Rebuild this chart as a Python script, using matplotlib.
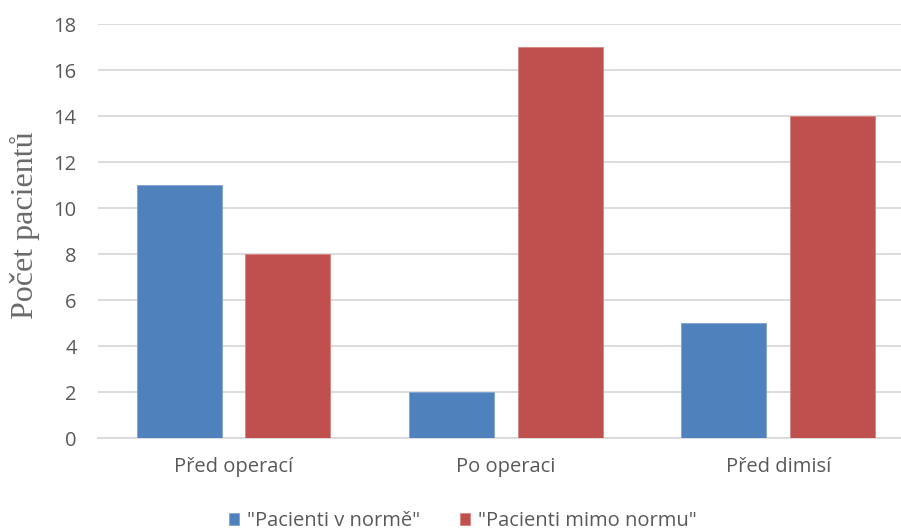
import matplotlib
matplotlib.use("Agg")
import matplotlib.pyplot as plt
import numpy as np

categories = ["Před operací", "Po operaci", "Před dimisí"]
series_names = ['"Pacienti v normě"', '"Pacienti mimo normu"']
v_norme = [11, 2, 5]
mimo_normu = [8, 17, 14]
yticks = [0, 2, 4, 6, 8, 10, 12, 14, 16, 18]
colors = ["#4F81BD", "#C0504D"]

fig = plt.figure(figsize=(9.01, 5.31), dpi=100)
W, H = 901, 531
left_px, right_px, top_px, bot_px = 97.5, 914.25, 24, 438
ax = fig.add_axes([left_px / W, 1 - bot_px / H, (right_px - left_px) / W, (bot_px - top_px) / H])

x = np.arange(len(categories))
bw = 0.312
ax.bar(x - 0.199, v_norme, bw, color=colors[0], label=series_names[0], zorder=3, edgecolor="#7FA3D0", linewidth=0.6)
ax.bar(x + 0.199, mimo_normu, bw, color=colors[1], label=series_names[1], zorder=3, edgecolor="#D88583", linewidth=0.6)

ax.set_xlim(-0.5, 2.5)
ax.set_ylim(0, 18)
ax.set_yticks(yticks)
ax.set_xticks(x)
ax.set_xticklabels(categories)
ax.yaxis.grid(True, color="#D9D9D9", linewidth=1.3, zorder=0)
for s in ["top", "right", "left"]:
    ax.spines[s].set_visible(False)
ax.spines["bottom"].set_color("#D9D9D9")
ax.spines["bottom"].set_linewidth(1.3)
ax.tick_params(axis="both", length=0, colors="#595959", labelsize=14.5)
ax.tick_params(axis="y", pad=15)
ax.tick_params(axis="x", pad=14)
for lab in ax.get_xticklabels() + ax.get_yticklabels():
    lab.set_fontfamily("Open Sans")

fig.text(25 / W, 1 - 225 / H, "Počet pacientů", rotation=90, ha="center", va="center",
         fontsize=23, color="#6a6a6a", family="Liberation Serif")

leg = fig.legend(loc="center", bbox_to_anchor=(463 / W, 1 - 521 / H), ncol=2, frameon=False,
                 prop={"family": "Open Sans", "size": 14.5}, handlelength=0.5, handleheight=0.5,
                 columnspacing=2.0, handletextpad=0.4)
for t in leg.get_texts():
    t.set_color("#595959")

fig.savefig("out.png", dpi=100)
